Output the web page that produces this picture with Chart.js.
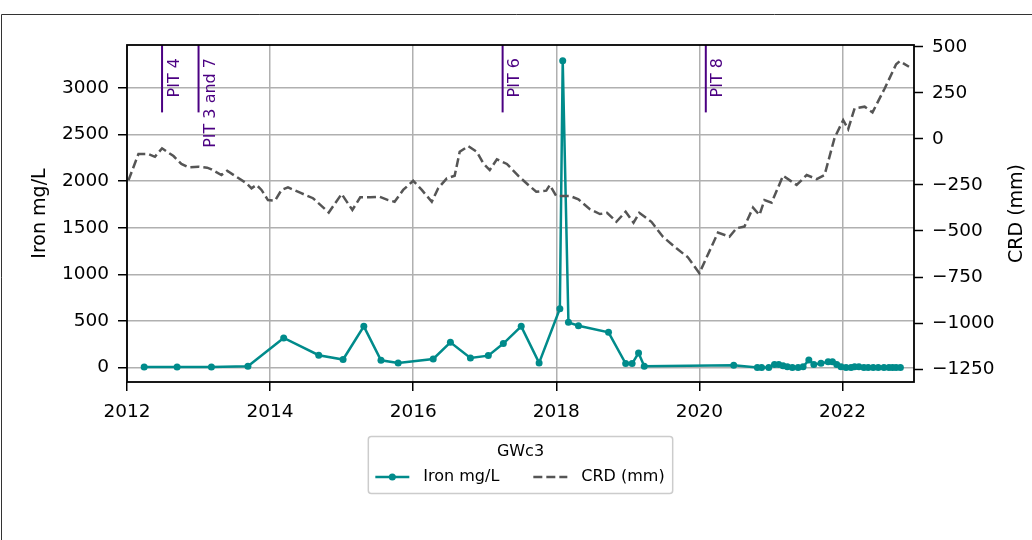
<!DOCTYPE html>
<html>
<head>
<meta charset="utf-8">
<script src="https://cdn.jsdelivr.net/npm/chart.js@4.4.0/dist/chart.umd.min.js"></script>
<style>
  body { margin: 0; background: #fff; }
  canvas { display: block; }
</style>
</head>
<body>
<canvas id="chart" width="1032" height="540"></canvas>
<script>
// Iron samples (decimal year, mg/L)
var ironDates = [2012.24, 2012.70, 2013.18, 2013.69, 2014.19, 2014.68, 2015.02, 2015.31, 2015.55, 2015.79,
    2016.28, 2016.52, 2016.80, 2017.05, 2017.26, 2017.51, 2017.76, 2018.05, 2018.09, 2018.17,
    2018.31, 2018.73, 2018.97, 2019.06, 2019.15, 2019.23, 2020.48,
    2020.81, 2020.87, 2020.97, 2021.05, 2021.11, 2021.17, 2021.23, 2021.30, 2021.38, 2021.45,
    2021.53, 2021.60, 2021.70, 2021.80, 2021.86, 2021.92, 2021.98, 2022.05, 2022.12, 2022.17,
    2022.23, 2022.30, 2022.36, 2022.43, 2022.50, 2022.58, 2022.65, 2022.70, 2022.75, 2022.81];
var ironValues = [5, 5, 5, 15, 317, 132, 86, 442, 78, 50,
    92, 271, 103, 128, 257, 442, 50, 631, 3290, 485,
    449, 378, 43, 43, 156, 14, 25,
    0, 0, 0, 34, 34, 20, 9, 0, 0, 9,
    80, 34, 45, 62, 62, 34, 9, 0, 0, 9,
    9, 0, 0, 0, 0, 0, 0, 0, 0, 0];

// CRD (mm)
var crdDates = [2012.02, 2012.16, 2012.30, 2012.39, 2012.49, 2012.65, 2012.76, 2012.86, 2013.00, 2013.12,
    2013.18, 2013.32, 2013.40, 2013.51, 2013.67, 2013.74, 2013.81, 2013.88, 2013.97, 2014.07,
    2014.16, 2014.25, 2014.42, 2014.60, 2014.82, 2015.00, 2015.15, 2015.26, 2015.40, 2015.53,
    2015.65, 2015.74, 2015.86, 2016.00, 2016.12, 2016.26, 2016.35, 2016.47, 2016.58, 2016.65,
    2016.77, 2016.89, 2016.98, 2017.07, 2017.17, 2017.31, 2017.47, 2017.61, 2017.72, 2017.86,
    2017.91, 2018.00, 2018.19, 2018.31, 2018.47, 2018.61, 2018.71, 2018.84, 2018.97, 2019.08,
    2019.16, 2019.33, 2019.49, 2019.68, 2019.84, 2020.00, 2020.26, 2020.42, 2020.52, 2020.63,
    2020.75, 2020.84, 2020.91, 2021.01, 2021.17, 2021.36, 2021.50, 2021.64, 2021.75, 2021.89,
    2022.01, 2022.08, 2022.17, 2022.31, 2022.42, 2022.59, 2022.75, 2022.80, 2022.93];
var crdValues = [-225, -82, -82, -97, -51, -93, -136, -154, -151, -156,
    -165, -196, -173, -201, -241, -268, -250, -277, -332, -335,
    -277, -263, -292, -322, -400, -299, -386, -317, -317, -314,
    -332, -341, -277, -227, -277, -341, -268, -214, -200, -70,
    -39, -70, -133, -169, -111, -136, -201, -250, -287, -281,
    -250, -310, -310, -328, -382, -408, -401, -450, -395, -455,
    -401, -450, -531, -594, -643, -729, -509, -531, -485, -476,
    -373, -413, -332, -346, -200, -250, -196, -218, -196, 6,
    102, 53, 166, 175, 144, 274, 405, 422, 392];

// pit events
var pitDates = [2012.49, 2013.00, 2017.25, 2020.09];
var pitLabels = ['PIT 4', 'PIT 3 and 7', 'PIT 6', 'PIT 8'];

// tick labels
var xTicks = [2012, 2014, 2016, 2018, 2020, 2022];
var ironTicks = [0, 500, 1000, 1500, 2000, 2500, 3000];
var crdTicks = [-1250, -1000, -750, -500, -250, 0, 250, 500];

var ironColor = '#008b8b';
var crdColor = '#555555';
var pitColor = '#4b0082';
var FONT = 'DejaVu Sans';

Chart.defaults.font.family = FONT;
Chart.defaults.color = '#000';

function pairs(xs, ys) {
    return xs.map(function (d, i) { return { x: d, y: ys[i] }; });
}

function fixedTicks(list) {
    return function (s) { s.ticks = list.map(function (v) { return { value: v }; }); };
}

var extras = {
    id: 'extras',
    afterDatasetsDraw: function (chart) {
        var ctx = chart.ctx, a = chart.chartArea, x = chart.scales.x;
        ctx.save();
        // pit markers: top 20% of axes
        ctx.strokeStyle = pitColor;
        ctx.fillStyle = pitColor;
        ctx.lineWidth = 2;
        ctx.font = '16px "' + FONT + '"';
        pitDates.forEach(function (d, i) {
            var px = x.getPixelForValue(d);
            ctx.beginPath();
            ctx.moveTo(px, a.top);
            ctx.lineTo(px, a.top + (a.bottom - a.top) * 0.2);
            ctx.stroke();
            ctx.save();
            ctx.translate(px + 16.5, a.top + 13);
            ctx.rotate(-Math.PI / 2);
            ctx.textAlign = 'right';
            ctx.textBaseline = 'alphabetic';
            ctx.fillText(pitLabels[i], 0, 0);
            ctx.restore();
        });
        // axes frame
        ctx.strokeStyle = '#000';
        ctx.lineWidth = 1.8;
        ctx.strokeRect(a.left, a.top, a.right - a.left, a.bottom - a.top);
        ctx.restore();
    },
    afterDraw: function (chart) {
        var ctx = chart.ctx, a = chart.chartArea;
        ctx.save();
        // figure edge
        ctx.strokeStyle = '#333';
        ctx.lineWidth = 1;
        ctx.beginPath();
        ctx.moveTo(1.5, 540);
        ctx.lineTo(1.5, 14.5);
        ctx.lineTo(1032, 14.5);
        ctx.stroke();

        // right axis label, reading bottom to top
        ctx.fillStyle = '#000';
        ctx.font = '19px "' + FONT + '"';
        ctx.save();
        ctx.translate(chart.scales.y1.right - 15, (a.top + a.bottom) / 2);
        ctx.rotate(-Math.PI / 2);
        ctx.textAlign = 'center';
        ctx.textBaseline = 'middle';
        ctx.fillText('CRD (mm)', 0, 0);
        ctx.restore();

        // legend box
        ctx.font = '16px "' + FONT + '"';
        var w1 = ctx.measureText('Iron mg/L').width;
        var w2 = ctx.measureText('CRD (mm)').width;
        var total = 7 + 34 + 14 + w1 + 34 + 34 + 14 + w2 + 8;
        var cx = (a.left + a.right) / 2;
        var left = cx - total / 2;
        var top = a.bottom + 54.5;
        var h = 57;
        ctx.beginPath();
        ctx.roundRect(left, top, total, h, 3);
        ctx.fillStyle = 'rgba(255,255,255,0.8)';
        ctx.fill();
        ctx.strokeStyle = '#cccccc';
        ctx.lineWidth = 1.5;
        ctx.stroke();

        ctx.fillStyle = '#000';
        ctx.textAlign = 'center';
        ctx.textBaseline = 'middle';
        ctx.fillText('GWc3', cx, top + 15);

        var ey = top + 40.5;
        var sx = left + 7;
        ctx.strokeStyle = ironColor;
        ctx.lineWidth = 2.5;
        ctx.beginPath();
        ctx.moveTo(sx, ey);
        ctx.lineTo(sx + 34, ey);
        ctx.stroke();
        ctx.fillStyle = ironColor;
        ctx.beginPath();
        ctx.arc(sx + 17, ey, 3.5, 0, Math.PI * 2);
        ctx.fill();
        ctx.fillStyle = '#000';
        ctx.textAlign = 'left';
        ctx.fillText('Iron mg/L', sx + 48, ey);

        var sx2 = sx + 48 + w1 + 34;
        ctx.strokeStyle = crdColor;
        ctx.setLineDash([9, 4]);
        ctx.beginPath();
        ctx.moveTo(sx2, ey);
        ctx.lineTo(sx2 + 34, ey);
        ctx.stroke();
        ctx.setLineDash([]);
        ctx.fillText('CRD (mm)', sx2 + 48, ey);
        ctx.restore();
    }
};

var tickFont = { size: 18.5 };
var titleFont = { size: 19 };
var gridOpts = { color: '#b0b0b0', lineWidth: 1.5, tickColor: '#000', tickLength: 9, tickWidth: 1.5 };

new Chart(document.getElementById('chart').getContext('2d'), {
    type: 'line',
    data: {
        datasets: [{
            label: 'CRD (mm)',
            data: pairs(crdDates, crdValues),
            yAxisID: 'y1',
            borderColor: crdColor,
            borderWidth: 2.5,
            borderDash: [9, 4],
            pointRadius: 0,
            tension: 0,
            fill: false
        }, {
            label: 'Iron mg/L',
            data: pairs(ironDates, ironValues),
            yAxisID: 'y',
            borderColor: ironColor,
            backgroundColor: ironColor,
            borderWidth: 2.5,
            pointRadius: 3.5,
            pointBorderWidth: 0,
            tension: 0,
            fill: false
        }]
    },
    options: {
        responsive: false,
        animation: false,
        layout: { padding: { top: 45, left: 25, right: 0, bottom: 118 } },
        plugins: {
            legend: { display: false },
            tooltip: { enabled: false }
        },
        scales: {
            x: {
                type: 'linear',
                position: 'bottom',
                min: 2012,
                max: 2023,
                afterFit: function (s) { s.height = 40; },
                afterBuildTicks: fixedTicks(xTicks),
                ticks: {
                    font: tickFont, color: '#000', padding: 10, maxRotation: 0, autoSkip: false,
                    callback: function (v) { return String(v); }
                },
                grid: gridOpts,
                border: { display: false }
            },
            y: {
                position: 'left',
                min: -155,
                max: 3460,
                afterFit: function (s) { s.width = 102; },
                afterBuildTicks: fixedTicks(ironTicks),
                ticks: {
                    font: tickFont, color: '#000', padding: 9, autoSkip: false,
                    callback: function (v) { return String(v); }
                },
                grid: gridOpts,
                border: { display: false },
                title: { display: true, text: 'Iron mg/L', font: titleFont, color: '#000' }
            },
            y1: {
                position: 'right',
                min: -1320,
                max: 510,
                afterFit: function (s) { s.width = 118; },
                afterBuildTicks: fixedTicks(crdTicks),
                ticks: {
                    font: tickFont, color: '#000', padding: 9, autoSkip: false,
                    callback: function (v) { return String(v).replace('-', '\u2212'); }
                },
                grid: { drawOnChartArea: false, tickColor: '#000', tickLength: 9, tickWidth: 1.5 },
                border: { display: false }
            }
        }
    },
    plugins: [extras]
});
</script>
</body>
</html>
